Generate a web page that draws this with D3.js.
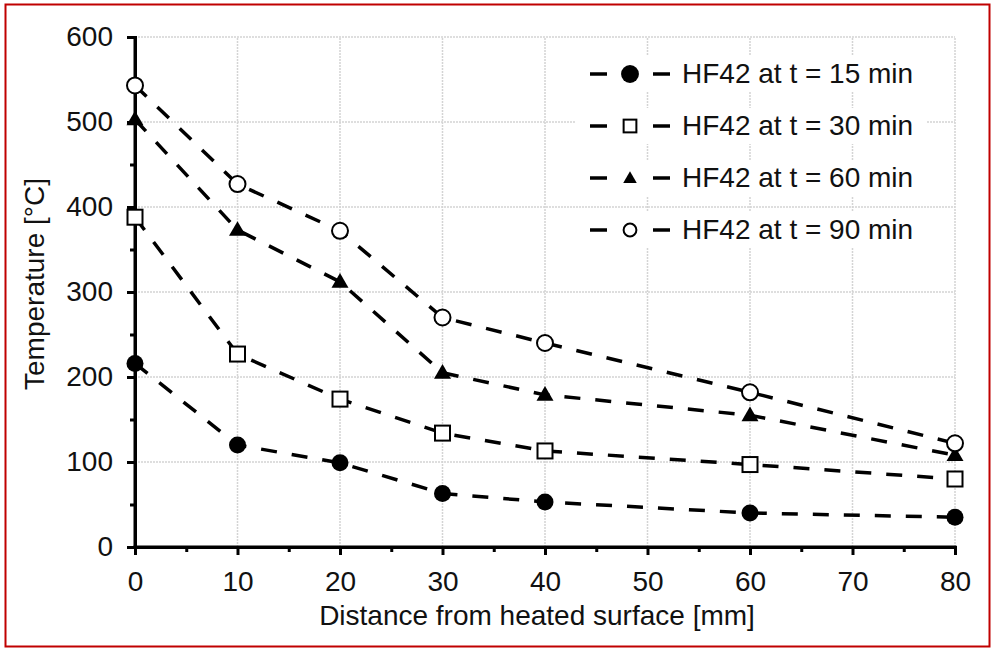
<!DOCTYPE html>
<html><head><meta charset="utf-8">
<script src="https://cdn.jsdelivr.net/npm/d3@7"></script>
<style>body{margin:0;background:#fff;}svg{display:block;font-family:"Liberation Sans",Arial,sans-serif;}</style>
</head><body>
<script>
const distances = [0, 10, 20, 30, 40, 60, 80];
const seriesNames = ["HF42 at t = 15 min", "HF42 at t = 30 min", "HF42 at t = 60 min", "HF42 at t = 90 min"];
const t15 = [216, 120, 99, 63, 53, 40, 35];
const t30 = [388, 227, 174, 134, 113, 97, 80];
const t60 = [503, 373, 312, 205, 179, 155, 108];
const t90 = [543, 427, 372, 270, 240, 182, 122];
const markerTypes = ["circleFilled", "squareOpen", "triangleFilled", "circleOpen"];
const xTicks = [0, 10, 20, 30, 40, 50, 60, 70, 80];
const yTicks = [0, 100, 200, 300, 400, 500, 600];

const W = 993, H = 652;
const m = {left: 135, right: 38, top: 37, bottom: 105};
const FS = 28;
const svg = d3.select("body").append("svg").attr("width", W).attr("height", H);
svg.append("rect").attr("x", 5.5).attr("y", 4.5).attr("width", 984).attr("height", 642)
  .attr("fill", "#fff").attr("stroke", "#c00000").attr("stroke-width", 2);

const x = d3.scaleLinear().domain([0, 80]).range([m.left, W - m.right]);
const y = d3.scaleLinear().domain([0, 600]).range([H - m.bottom, m.top]);

const g = svg.append("g");
g.selectAll(".vg").data(xTicks.slice(1)).join("line")
  .attr("x1", d => x(d)).attr("x2", d => x(d)).attr("y1", y(0)).attr("y2", y(600))
  .attr("stroke", "#d4d4d4").attr("stroke-width", 1.5).attr("stroke-dasharray", "2,1");
g.selectAll(".hg").data(yTicks.slice(1)).join("line")
  .attr("x1", x(0)).attr("x2", x(80)).attr("y1", d => y(d)).attr("y2", d => y(d))
  .attr("stroke", "#d4d4d4").attr("stroke-width", 1.5).attr("stroke-dasharray", "2,1");

const xAxis = d3.axisBottom(x).tickValues(xTicks).tickSize(8).tickPadding(16);
const xMinor = d3.axisBottom(x).tickValues(d3.range(5, 80, 10)).tickSize(5).tickFormat("");
const yAxis = d3.axisLeft(y).tickValues(yTicks).tickSize(8).tickPadding(14);
const yMinor = d3.axisLeft(y).tickValues(d3.range(50, 600, 100)).tickSize(5).tickFormat("");

function styleAxis(sel) {
  sel.attr("font-family", null).attr("font-size", null);
  sel.select(".domain").attr("stroke", "#000").attr("stroke-width", 3);
  sel.selectAll(".tick line").attr("stroke", "#000").attr("stroke-width", 3);
  sel.selectAll("text").attr("font-size", FS).attr("fill", "#111");
}
const gx = svg.append("g").attr("transform", `translate(0,${y(0)})`).call(xAxis).call(styleAxis);
svg.append("g").attr("transform", `translate(0,${y(0)})`).call(xMinor).call(styleAxis);
const gy = svg.append("g").attr("transform", `translate(${x(0)},0)`).call(yAxis).call(styleAxis);
svg.append("g").attr("transform", `translate(${x(0)},0)`).call(yMinor).call(styleAxis);
gx.selectAll(".domain").attr("d", `M${x(0) - 1.5},0H${x(80) + 1.5}`);
gy.selectAll(".domain").attr("d", `M0,${y(0) + 1.5}V${y(600)}`);

svg.append("text").attr("x", (x(0) + x(80)) / 2 - 8).attr("y", 625).attr("text-anchor", "middle")
  .attr("font-size", FS).attr("fill", "#111").text("Distance from heated surface [mm]");
svg.append("text").attr("transform", `translate(44,${(y(0) + y(600)) / 2 - 8}) rotate(-90)`).attr("text-anchor", "middle")
  .attr("font-size", FS).attr("fill", "#111").text("Temperature [°C]");

function drawMarker(sel, type, cx, cy, s) {
  if (type === "circleFilled") sel.append("circle").attr("cx", cx).attr("cy", cy).attr("r", 8.5 * s).attr("fill", "#000");
  else if (type === "circleOpen") sel.append("circle").attr("cx", cx).attr("cy", cy).attr("r", 8 * s).attr("fill", "#fff").attr("stroke", "#000").attr("stroke-width", 2);
  else if (type === "squareOpen") sel.append("rect").attr("x", cx - 7.5 * s).attr("y", cy - 7.5 * s).attr("width", 15 * s).attr("height", 15 * s).attr("fill", "#fff").attr("stroke", "#000").attr("stroke-width", 2);
  else if (type === "triangleFilled") sel.append("path").attr("d", d3.symbol(d3.symbolTriangle, 125 * s * s)()).attr("transform", `translate(${cx},${cy + 1})`).attr("fill", "#000");
}

const all = [t15, t30, t60, t90];
const line = d3.line().x((d, i) => x(distances[i])).y(d => y(d));
all.forEach((vals) => {
  svg.append("path").datum(vals).attr("d", line).attr("fill", "none").attr("stroke", "#000")
    .attr("stroke-width", 3.5).attr("stroke-dasharray", "16,15");
});
all.forEach((vals, k) => {
  const gg = svg.append("g");
  vals.forEach((v, i) => drawMarker(gg, markerTypes[k], x(distances[i]), y(v), 1));
});

const legScale = [1.05, 0.85, 0.8, 0.8];
const leg = svg.append("g");
seriesNames.forEach((name, k) => {
  const ly = 74 + k * 52;
  leg.append("rect").attr("x", 576).attr("y", ly - 18).attr("width", 350).attr("height", 36).attr("fill", "#fff");
  leg.append("line").attr("x1", 590).attr("x2", 607).attr("y1", ly).attr("y2", ly).attr("stroke", "#000").attr("stroke-width", 3.5);
  leg.append("line").attr("x1", 653).attr("x2", 670).attr("y1", ly).attr("y2", ly).attr("stroke", "#000").attr("stroke-width", 3.5);
  drawMarker(leg, markerTypes[k], 630, ly, legScale[k]);
  leg.append("text").attr("x", 682).attr("y", ly + 9).attr("font-size", FS).attr("fill", "#111").text(name);
});
</script>
</body></html>
